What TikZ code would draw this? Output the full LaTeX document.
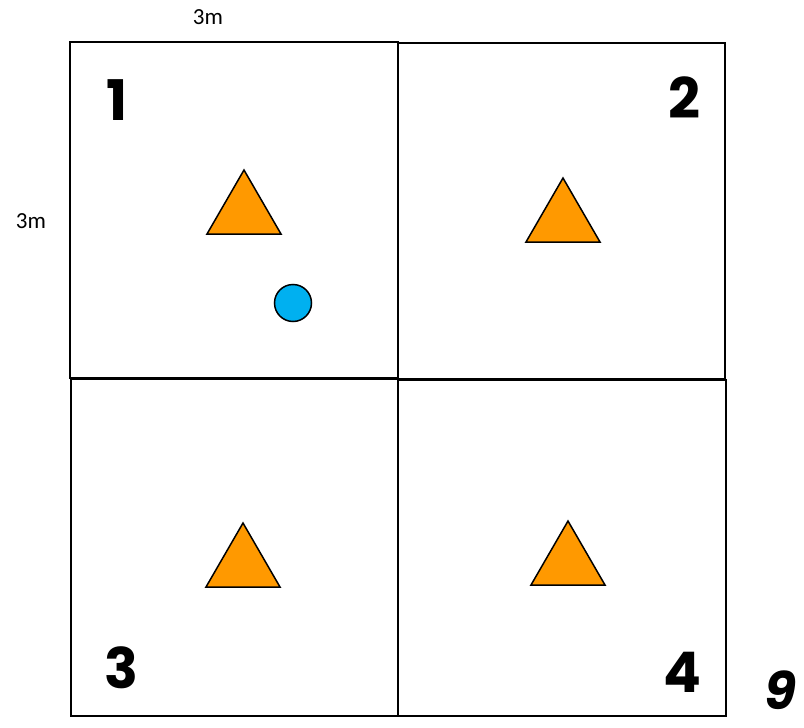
\documentclass[tikz,border=0pt]{standalone}
\usepackage{fontspec}
\setmainfont{Carlito}
\newfontfamily\handfont{Poppins}
\definecolor{tri}{HTML}{FF9900}
\definecolor{dot}{HTML}{00B0F0}
\begin{document}
\begin{tikzpicture}
  [x=1pt,y=-1pt,every node/.style={inner sep=0pt},
   num/.style={font=\handfont\bfseries\fontsize{56}{56}\selectfont},
   lbl/.style={font=\fontsize{23}{23}\selectfont}]
\useasboundingbox (0,0) rectangle (804,728);
% rooms
 \foreach \xa/\ya/\xb/\yb in {70/42/398/378,398/43/725/379,71/379/398/716,398/380/726/716}
    \draw[line width=2pt] (\xa,\ya) rectangle (\xb,\yb);
% triangles
 \foreach \cx/\ty in {244/170,563/178,243/523,568/521}
    \draw[fill=tri,line width=1.5pt,line join=miter]
    (\cx,\ty) -- ++(37,64) -- ++(-74,0) -- cycle;
\node (d1)[circle,draw,fill=dot,line width=1.5pt,minimum size=37pt] at (293,303) {};

\node (n1)[num] at (117,100) {1};
  \node (n2)[num] at (684,98) {2};
  \node (n3)[num] at (121,668) {3};
  \node (n4)[num] at (682,672) {4};
  \node (n9)[num,font=\handfont\bfseries\itshape\fontsize{52}{52}\selectfont] at (780,690) {9};
\node (w)[lbl] at (208,17) {3m};
  \node (h)[lbl] at (31,221) {3m};
\end{tikzpicture}
\end{document}
